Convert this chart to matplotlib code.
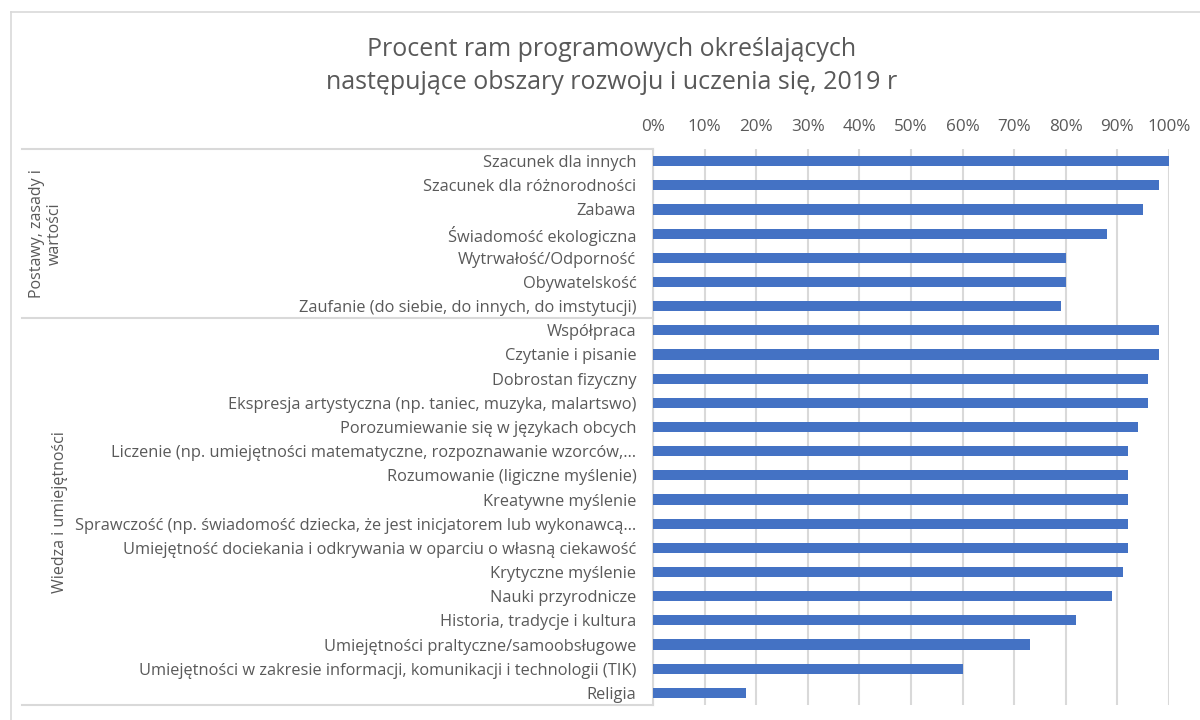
import matplotlib
matplotlib.use("Agg")
import matplotlib.pyplot as plt
from matplotlib.lines import Line2D
from matplotlib.transforms import blended_transform_factory
from matplotlib.ticker import PercentFormatter

plt.rcParams['font.family'] = ['Open Sans', 'DejaVu Sans']

title = "Procent ram programowych określających\nnastępujące obszary rozwoju i uczenia się, 2019 r"

group_names = ["Postawy, zasady i\nwartości", "Wiedza i umiejętności"]
group1_labels = [
    "Szacunek dla innych",
    "Szacunek dla różnorodności",
    "Zabawa",
    "Świadomość ekologiczna",
    "Wytrwałość/Odporność",
    "Obywatelskość",
    "Zaufanie (do siebie, do innych, do imstytucji)",
]
group1_values = [100, 98, 95, 88, 80, 80, 79]

group2_labels = [
    "Współpraca",
    "Czytanie i pisanie",
    "Dobrostan fizyczny",
    "Ekspresja artystyczna (np. taniec, muzyka, malartswo)",
    "Porozumiewanie się w językach obcych",
    "Liczenie (np. umiejętności matematyczne, rozpoznawanie wzorców,…",
    "Rozumowanie (ligiczne myślenie)",
    "Kreatywne myślenie",
    "Sprawczość (np. świadomość dziecka, że jest inicjatorem lub wykonawcą…",
    "Umiejętność dociekania i odkrywania w oparciu o własną ciekawość",
    "Krytyczne myślenie",
    "Nauki przyrodnicze",
    "Historia, tradycje i kultura",
    "Umiejętności praltyczne/samoobsługowe",
    "Umiejętności w zakresie informacji, komunikacji i technologii (TIK)",
    "Religia",
]
group2_values = [98, 98, 96, 96, 94, 92, 92, 92, 92, 92, 91, 89, 82, 73, 60, 18]

x_ticks = [0, 10, 20, 30, 40, 50, 60, 70, 80, 90, 100]

labels = group1_labels + group2_labels
values = group1_values + group2_values
n = len(labels)
n1 = len(group1_labels)

W, H = 1200, 720
fig = plt.figure(figsize=(12, 7.2), dpi=100)
fig.patch.set_facecolor("white")

x0, x1 = 653, 1169
y_top, y_bot = 149, 705
ax = fig.add_axes([x0 / W, 1 - y_bot / H, (x1 - x0) / W, (y_bot - y_top) / H])

bar_color = "#4472C4"
grid_color = "#D9D9D9"
text_color = "#595959"

ypos = list(range(n))
ax.barh(ypos, values, height=0.42, color=bar_color, zorder=3)
ax.set_ylim(n - 0.5, -0.5)
ax.set_xlim(0, 100)
ax.set_xticks(x_ticks)
ax.xaxis.set_major_formatter(PercentFormatter(decimals=0))
ax.xaxis.tick_top()
ax.tick_params(axis="x", length=0, pad=10, labelsize=12.3, colors=text_color)
ax.set_yticks(ypos)
ax.set_yticklabels(labels)
ax.tick_params(axis="y", length=0, pad=12, labelsize=11.8, colors=text_color)
ax.grid(axis="x", color=grid_color, linewidth=1.5, zorder=0)
for s in ["top", "right", "bottom"]:
    ax.spines[s].set_visible(False)
ax.spines["left"].set_color(grid_color)
ax.spines["left"].set_linewidth(1.5)

# group separators
tr = blended_transform_factory(fig.transFigure, ax.transData)
for yb in [-0.5, n1 - 0.5, n - 0.5]:
    fig.add_artist(Line2D([22 / W, x0 / W], [yb, yb], transform=tr,
                          color=grid_color, linewidth=1.5))

# group labels
g1c = (n1 - 1) / 2
g2c = (n1 + n - 1) / 2
ax.text(46 / W, g1c, group_names[0], transform=tr, rotation=90,
        ha="center", va="center", fontsize=11.5, color=text_color, linespacing=1.15)
ax.text(60 / W, g2c, group_names[1], transform=tr, rotation=90,
        ha="center", va="center", fontsize=11.5, color=text_color)

# chart border
fig.add_artist(Line2D([11 / W, 1.0], [1 - 12 / H, 1 - 12 / H], transform=fig.transFigure,
                      color=grid_color, linewidth=1.2))
fig.add_artist(Line2D([11 / W, 11 / W], [0, 1 - 12 / H], transform=fig.transFigure,
                      color=grid_color, linewidth=1.2))

fig.text(612 / W, 1 - 66 / H, title, ha="center", va="center", fontsize=18,
         color=text_color, linespacing=1.45)

fig.savefig("out.png", dpi=100)
